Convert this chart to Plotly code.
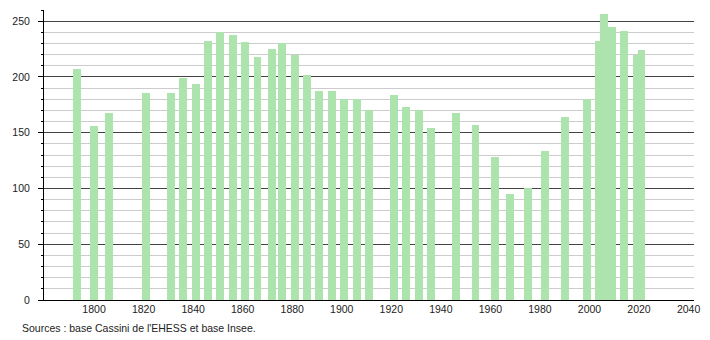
import plotly.graph_objects as go

years = [1793, 1800, 1806, 1821, 1831, 1836, 1841, 1846, 1851, 1856, 1861, 1866,
         1872, 1876, 1881, 1886, 1891, 1896, 1901, 1906, 1911, 1921, 1926, 1931,
         1936, 1946, 1954, 1962, 1968, 1975, 1982, 1990, 1999, 2004, 2006, 2009,
         2014, 2019, 2021]
population = [207, 156, 168, 186, 186, 199, 194, 232, 240, 238, 231, 218,
              225, 230, 220, 202, 187, 187, 180, 180, 170, 184, 173, 170,
              154, 168, 157, 128, 95, 100, 134, 164, 180, 232, 256, 245,
              241, 220, 224]
x_ticks = [1800, 1820, 1840, 1860, 1880, 1900, 1920, 1940, 1960, 1980, 2000, 2020, 2040]
y_ticks = [0, 50, 100, 150, 200, 250]
source_text = "Sources : base Cassini de l'EHESS et base Insee."

font_family = "Liberation Sans, Arial, sans-serif"

fig = go.Figure()
fig.add_trace(go.Bar(
    x=years, y=population, width=3.2,
    marker=dict(color="#ade3ad", line=dict(width=0)),
    hoverinfo="x+y",
))

fig.update_layout(
    width=710, height=340,
    margin=dict(l=44, r=10, t=10, b=40),
    paper_bgcolor="white", plot_bgcolor="white",
    showlegend=False,
    font=dict(family=font_family, size=10.5, color="#222"),
    bargap=0,
)
fig.update_xaxes(
    range=[1779.8, 2042.2],
    tickvals=x_ticks, ticktext=[str(t) for t in x_ticks],
    showgrid=False, zeroline=False,
    showline=True, linecolor="#000", linewidth=1,
    ticks="", ticklabelstandoff=-1,
    tickfont=dict(size=10.5, color="#222"),
)
fig.update_yaxes(
    range=[0, 260],
    tickvals=y_ticks,
    showgrid=True, gridcolor="#444", gridwidth=1,
    zeroline=False,
    showline=True, linecolor="#000", linewidth=1,
    ticks="outside", ticklen=5, tickcolor="#000",
    ticklabelstandoff=6,
    tickfont=dict(size=10.5, color="#222"),
    minor=dict(dtick=10, showgrid=True, gridcolor="#cccccc", gridwidth=1,
               ticks="outside", ticklen=2, tickcolor="#000"),
)
fig.add_annotation(
    text=source_text, xref="paper", yref="paper",
    x=-0.0366, y=-0.0966, xanchor="left", yanchor="middle",
    showarrow=False, font=dict(size=10.5, color="#222", family=font_family),
)

fig.write_html("out.html")
